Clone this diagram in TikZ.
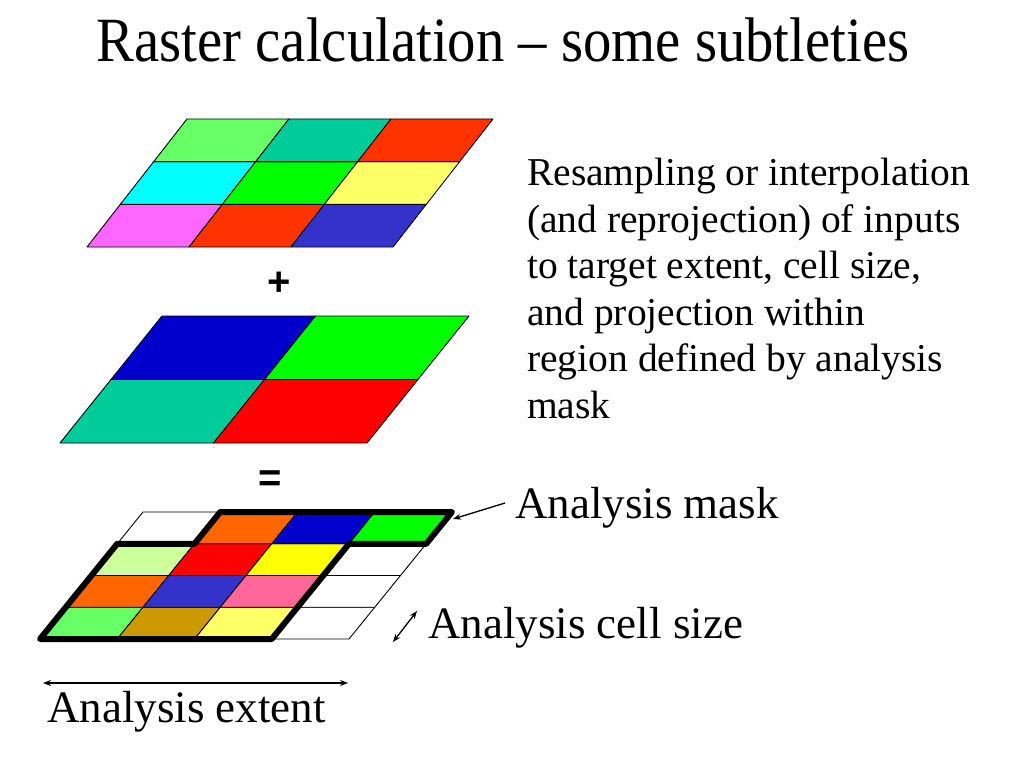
\documentclass[tikz,border=0pt]{standalone}
\usepackage{fontspec}
\usepackage{graphicx}
\setmainfont{Liberation Serif}
\newfontfamily\opsans{Liberation Sans}
\usetikzlibrary{arrows.meta}
\definecolor{cA}{HTML}{66FF66}
\definecolor{cB}{HTML}{00CC99}
\definecolor{cC}{HTML}{FF3300}
\definecolor{cD}{HTML}{00FFFF}
\definecolor{cE}{HTML}{00FF00}
\definecolor{cF}{HTML}{FFFF66}
\definecolor{cG}{HTML}{FF66FF}
\definecolor{cH}{HTML}{3333CC}
\definecolor{cI}{HTML}{0000CC}
\definecolor{cJ}{HTML}{FF0000}
\definecolor{cK}{HTML}{FF6600}
\definecolor{cL}{HTML}{CCFF99}
\definecolor{cM}{HTML}{FFFF00}
\definecolor{cN}{HTML}{FF6699}
\definecolor{cO}{HTML}{CC9900}
\newcommand\gcell[3]{\filldraw[cellline,fill=#3] (#1,#2) -- ++(1,0) -- ++(0,1) -- ++(-1,0) -- cycle;}
\begin{document}
\begin{tikzpicture}[x=1pt,y=-1pt,
  cellline/.style={draw=black,line width=0.9pt,line join=round},
  maskline/.style={draw=black,line width=6pt,line join=round},
  titletext/.style={inner sep=0pt,font=\fontsize{63}{70}\selectfont},
  bodytext/.style={inner sep=0pt,align=left,font=\fontsize{39.5}{46.5}\selectfont},
  lbl/.style={inner sep=0pt,font=\fontsize{45}{50}\selectfont},
  optext/.style={inner sep=0pt,font=\opsans\bfseries\fontsize{40}{40}\selectfont},
  conn/.style={draw=black,line width=1.3pt},
  tip/.tip={Stealth[length=8pt,width=6pt]}]
\useasboundingbox[fill=white] (0,0) rectangle (1024,768);

% title
\node[titletext,anchor=base] (title) at (503,62) {\scalebox{0.9}[1]{Raster calculation – some subtleties}};

% description (base anchor = baseline of last line)
\node[bodytext,anchor=base west] (desc) at (527,418) {Resampling or interpolation\\(and reprojection) of inputs\\to target extent, cell size,\\and projection within\\region defined by analysis\\mask};

% top grid
\begin{scope}[shift={(87,247)},x={(102pt,0pt)},y={(33.33pt,42.67pt)}]
  \gcell{0}{0}{cG}\gcell{1}{0}{cC}\gcell{2}{0}{cH}
  \gcell{0}{1}{cD}\gcell{1}{1}{cE}\gcell{2}{1}{cF}
  \gcell{0}{2}{cA}\gcell{1}{2}{cB}\gcell{2}{2}{cC}
\end{scope}

\node[optext] (plus) at (279,284) {+};

% middle grid
\begin{scope}[shift={(60,443)},x={(153.5pt,0pt)},y={(51pt,63.5pt)}]
  \gcell{0}{0}{cB}\gcell{1}{0}{cJ}
  \gcell{0}{1}{cI}\gcell{1}{1}{cE}
\end{scope}

\node[optext] (equals) at (270,481) {=};

% bottom grid
\begin{scope}[shift={(40,639)},x={(77.25pt,0pt)},y={(25.75pt,31.75pt)}]
  \gcell{0}{0}{cA}\gcell{1}{0}{cO}\gcell{2}{0}{cF}\gcell{3}{0}{white}
  \gcell{0}{1}{cK}\gcell{1}{1}{cH}\gcell{2}{1}{cN}\gcell{3}{1}{white}
  \gcell{0}{2}{cL}\gcell{1}{2}{cJ}\gcell{2}{2}{cM}\gcell{3}{2}{white}
  \gcell{0}{3}{white}\gcell{1}{3}{cK}\gcell{2}{3}{cI}\gcell{3}{3}{cE}
  \draw[maskline] (1,4) -- (4,4) -- (4,3) -- (3,3) -- (3,0) -- (0,0) -- (0,3) -- (1,3) -- cycle;
\end{scope}

% labels
\node[lbl,anchor=base west] (masklbl) at (515,518) {Analysis mask};
\node[lbl,anchor=base west] (celllbl) at (428,638) {Analysis cell size};
\node[lbl,anchor=base west] (extlbl) at (47,722) {Analysis extent};

% connectors
\coordinate (maskA) at (505,503);
\coordinate (maskB) at (453,519);
\draw[conn,-tip] (maskA) -- (maskB);
\coordinate (cellA) at (393,642);
\coordinate (cellB) at (417,611);
\draw[conn,tip-tip] (cellA) -- (cellB);
\coordinate (extA) at (43,683);
\coordinate (extB) at (348,683);
\draw[conn,tip-tip] (extA) -- (extB);
\end{tikzpicture}
\end{document}
